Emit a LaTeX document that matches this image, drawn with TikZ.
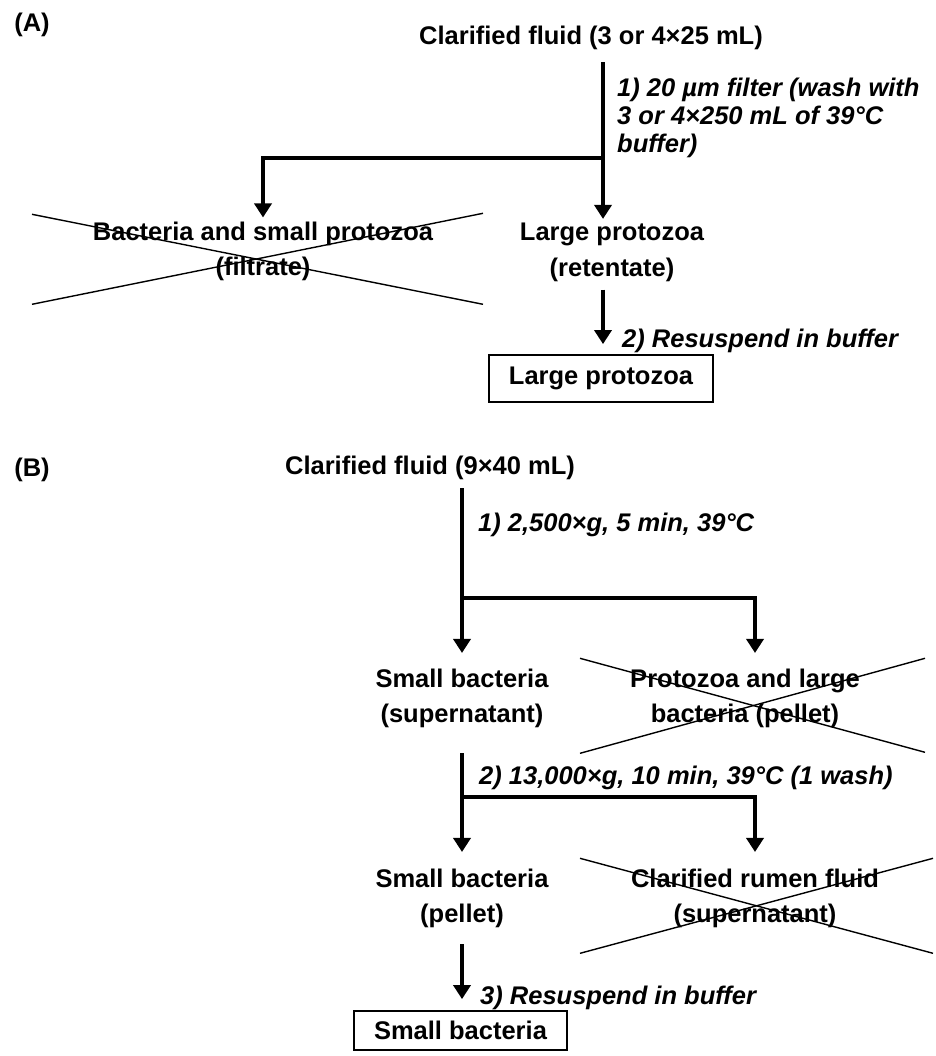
\documentclass[tikz,border=0pt]{standalone}
\usepackage{fontspec}
\setmainfont{Liberation Sans}
\usetikzlibrary{arrows.meta}
\begin{document}
\begin{tikzpicture}[x=1pt,y=-1pt,
  font=\bfseries\fontsize{25.5}{35.5}\selectfont,
  every node/.style={inner sep=4pt},
  fraction/.style={align=center},
  note/.style={anchor=west,align=left,font=\bfseries\itshape\fontsize{25.5}{28}\selectfont},
  result/.style={draw,line width=1.8pt,minimum width=224pt,minimum height=47pt},
  flow/.style={line width=4.5pt,-{Triangle[width=17pt,length=14pt]}},
  cross/.style={line width=1.4pt}]
 \useasboundingbox (0,0) rectangle (935,1056);
 % (A) filtering
 \node (labA) at (32,24.5) {(A)};
 \node (srcA) at (591,37.5) {Clarified fluid (3 or 4×25 mL)};
 \coordinate (splitA) at (603,158);
 \node[note] (stepA) at (613,117.5) {1) 20 µm filter (wash with\\3 or 4×250 mL of 39°C\\buffer)};
 \node[fraction] (filtA) at (263,251.3) {Bacteria and small protozoa\\(filtrate)};
 \node[fraction] (retA) at (612,252.3) {Large protozoa\\(retentate)};
 \node[note] (moveA) at (618,340.5) {2) Resuspend in buffer};
 \node[result] (boxA) at (601,378.5) {Large protozoa};
 \draw[flow,shorten <=8.5pt] (srcA.south -| splitA) -- (splitA |- retA.north);
 \draw[flow] (splitA) -| (filtA.north);
 \draw[flow,shorten <=4pt,shorten >=10pt] (retA.south -| splitA) -- (boxA.north -| splitA);
 \draw[cross] ([shift={(-231,-37)}]filtA.center) -- ([shift={(220,53)}]filtA.center);
 \draw[cross] ([shift={(-231,53)}]filtA.center) -- ([shift={(220,-38)}]filtA.center);
 % (B) centrifuging
 \node (labB) at (32,469.5) {(B)};
 \node (srcB) at (430,467.5) {Clarified fluid (9×40 mL)};
 \coordinate (splitB1) at (462,598);
 \coordinate (splitB2) at (462,797);
 \node[note] (stepB1) at (474,524.5) {1) 2,500×g, 5 min, 39°C};
 \node[fraction] (supB) at (462,698.3) {Small bacteria\\(supernatant)};
 \node[fraction] (coarseB) at (745,698.3) {Protozoa and large\\bacteria (pellet)};
 \node[note] (stepB2) at (475,777.5) {2) 13,000×g, 10 min, 39°C (1 wash)};
 \node[fraction] (pelletB) at (462,898.3) {Small bacteria\\(pellet)};
 \node[fraction] (fluidB) at (755,898.3) {Clarified rumen fluid\\(supernatant)};
 \node[note] (stepB3) at (476,997.5) {3) Resuspend in buffer};
 \node[result,minimum width=213pt,minimum height=39pt] (boxB) at (460.5,1030.5) {Small bacteria};
 \draw[flow,shorten <=4.5pt,shorten >=11.5pt] (srcB.south -| splitB1) -- (supB.north);
 \draw[flow,shorten >=11.5pt] (splitB1) -| ([xshift=10pt]coarseB.north);
 \draw[flow,shorten <=21pt,shorten >=12.5pt] (supB.south) -- (pelletB.north);
 \draw[flow,shorten >=12.5pt] (splitB2) -| (fluidB.north);
 \draw[flow,shorten <=12pt,shorten >=11pt] (pelletB.south) -- (pelletB.south |- boxB.north);
 \draw[cross] ([shift={(-165,-40)}]coarseB.center) -- ([shift={(180,54)}]coarseB.center);
 \draw[cross] ([shift={(-165,55)}]coarseB.center) -- ([shift={(180,-40)}]coarseB.center);
 \draw[cross] ([shift={(-175,-40)}]fluidB.center) -- ([shift={(178,55)}]fluidB.center);
 \draw[cross] ([shift={(-175,55)}]fluidB.center) -- ([shift={(178,-40)}]fluidB.center);
\end{tikzpicture}
\end{document}
